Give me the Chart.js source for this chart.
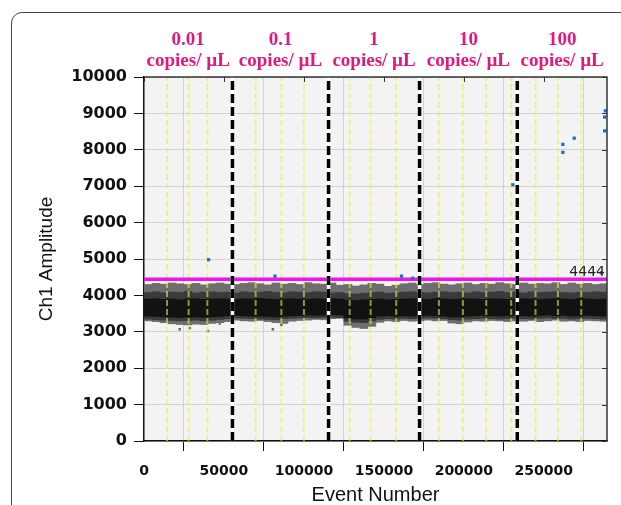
<!DOCTYPE html>
<html>
<head>
<meta charset="utf-8">
<script src="https://cdn.jsdelivr.net/npm/chart.js@4.4.1/dist/chart.umd.min.js"></script>
<style>
  body { margin: 0; background: #fff; }
  #wrap { position: relative; width: 621px; height: 505px; overflow: hidden; }
  #frame { position: absolute; left: 11px; top: 12px; width: 700px; height: 600px; border: 1.5px solid #444; border-radius: 11px; }
  canvas { position: absolute; left: 0; top: 0; }
</style>
</head>
<body>
<div id="wrap">
  <div id="frame"></div>
  <canvas id="dropletChart" width="621" height="505"></canvas>
</div>
<script>
// concentration of each block of wells
const concentrations = ['0.01', '0.1', '1', '10', '100'];
const unitLabel = 'copies/ \u00b5L';

// axis ticks
const eventTicks = [0, 50000, 100000, 150000, 200000, 250000];
const eventMax = 289500;
const ampMax = 10000;

// event number where each dilution block ends (black dashed) and well boundaries (yellow)
const sectionBounds = [55300, 115400, 172300, 233400];
const wellBounds = [14400, 27900, 39600, 69800, 85900, 100000, 128600, 141700, 157700,
  184400, 199400, 214000, 229600, 244800, 258800, 273400];

const threshold = 4444;

// droplet cloud, binned every 5000 events (bin centres)
const bandX = [2500, 7500, 12500, 17500, 22500, 27500, 32500, 37500, 42500, 47500,
  52500, 57500, 62500, 67500, 72500, 77500, 82500, 87500, 92500, 97500,
  102500, 107500, 112500, 117500, 122500, 127500, 132500, 137500, 142500, 147500,
  152500, 157500, 162500, 167500, 172500, 177500, 182500, 187500, 192500, 197500,
  202500, 207500, 212500, 217500, 222500, 227500, 232500, 237500, 242500, 247500,
  252500, 257500, 262500, 267500, 272500, 277500, 282500, 287500];
const outerHigh = [4300, 4330, 4310, 4340, 4320, 4300, 4330, 4290, 4320, 4340,
  4310, 4300, 4330, 4350, 4320, 4290, 4340, 4310, 4330, 4300,
  4350, 4320, 4310, 4340, 4280, 4300, 4260, 4290, 4330, 4310,
  4250, 4280, 4320, 4340, 4300, 4330, 4350, 4310, 4290, 4320,
  4340, 4300, 4330, 4310, 4350, 4320, 4300, 4340, 4310, 4330,
  4320, 4350, 4300, 4340, 4310, 4330, 4300, 4320];
const outerLow = [3300, 3280, 3250, 3220, 3200, 3190, 3210, 3200, 3230, 3250,
  3280, 3320, 3300, 3290, 3310, 3280, 3250, 3230, 3290, 3310,
  3320, 3340, 3330, 3360, 3370, 3180, 3120, 3090, 3150, 3260,
  3300, 3280, 3310, 3290, 3300, 3320, 3300, 3310, 3240, 3220,
  3270, 3300, 3290, 3310, 3300, 3280, 3300, 3290, 3310, 3280,
  3300, 3320, 3290, 3300, 3280, 3310, 3300, 3290];
const midHigh = [4080, 4100, 4070, 4090, 4080, 4110, 4070, 4090, 4100, 4080,
  4090, 4070, 4100, 4080, 4090, 4110, 4080, 4070, 4100, 4090,
  4080, 4100, 4090, 4070, 4080, 4050, 4040, 4060, 4080, 4090,
  4060, 4070, 4090, 4100, 4080, 4070, 4090, 4100, 4080, 4090,
  4070, 4100, 4080, 4090, 4110, 4080, 4090, 4070, 4100, 4080,
  4090, 4100, 4080, 4070, 4090, 4080, 4100, 4090];
const midLow = [3350, 3330, 3320, 3310, 3300, 3310, 3320, 3300, 3320, 3340,
  3360, 3380, 3370, 3360, 3350, 3340, 3330, 3360, 3370, 3380,
  3390, 3380, 3390, 3400, 3390, 3290, 3260, 3250, 3300, 3340,
  3360, 3350, 3370, 3360, 3370, 3380, 3370, 3360, 3330, 3320,
  3350, 3360, 3370, 3360, 3350, 3360, 3370, 3360, 3350, 3370,
  3380, 3360, 3370, 3350, 3360, 3370, 3360, 3350];
const coreHigh = [3900, 3910, 3890, 3900, 3880, 3900, 3910, 3890, 3900, 3910,
  3900, 3890, 3910, 3900, 3920, 3900, 3890, 3900, 3910, 3900,
  3890, 3910, 3900, 3910, 3900, 3870, 3860, 3880, 3890, 3900,
  3880, 3890, 3900, 3910, 3900, 3890, 3910, 3900, 3890, 3900,
  3910, 3900, 3890, 3910, 3900, 3890, 3900, 3910, 3900, 3890,
  3900, 3910, 3900, 3890, 3910, 3900, 3890, 3900];
const coreLow = [3430, 3420, 3410, 3400, 3390, 3400, 3410, 3400, 3410, 3420,
  3440, 3450, 3440, 3430, 3430, 3420, 3410, 3430, 3440, 3450,
  3460, 3450, 3460, 3470, 3460, 3380, 3350, 3350, 3390, 3430,
  3440, 3430, 3440, 3430, 3440, 3450, 3440, 3430, 3410, 3410,
  3430, 3440, 3450, 3440, 3430, 3440, 3450, 3440, 3430, 3450,
  3460, 3440, 3450, 3430, 3440, 3450, 3440, 3430];

// stray negative droplets under the cloud
const rainEvents = [22300, 28600, 40000, 47300, 80600, 85900];
const rainAmps = [3070, 3100, 3020, 3230, 3070, 3190];

// positive droplets (above threshold)
const posEvents = [40400, 81900, 161000, 168000, 230600, 261900, 261900, 269000, 288000, 288000, 288500, 286000];
const posAmps = [4980, 4530, 4530, 4470, 7040, 8150, 7930, 8320, 8900, 8520, 9070, 4620];

const band = (lo, hi) => bandX.map((x, i) => ({ x: x, y: [lo[i], hi[i]] }));
const points = (xs, ys) => xs.map((x, i) => ({ x: x, y: ys[i] }));
const verticals = (xs) => {
  const out = [];
  xs.forEach(x => out.push({ x: x, y: 0 }, { x: x, y: ampMax }, { x: x, y: null }));
  return out;
};

const plotDecor = {
  id: 'plotDecor',
  beforeDraw(chart) {
    const { ctx, chartArea: a } = chart;
    ctx.save();
    ctx.fillStyle = '#f3f3f3';
    ctx.fillRect(a.left, a.top, a.right - a.left, a.bottom - a.top);
    ctx.restore();
  },
  afterDraw(chart) {
    const { ctx, chartArea: a, scales } = chart;
    ctx.save();
    // top/right frame
    ctx.strokeStyle = '#333';
    ctx.lineWidth = 1.5;
    ctx.beginPath();
    ctx.moveTo(a.left, a.top);
    ctx.lineTo(a.right, a.top);
    ctx.lineTo(a.right, a.bottom);
    ctx.stroke();
    // inward ticks on top and right
    ctx.lineWidth = 1;
    ctx.beginPath();
    scales.y.ticks.forEach(t => {
      const y = Math.round(scales.y.getPixelForValue(t.value)) + 0.5;
      ctx.moveTo(a.right - 5, y);
      ctx.lineTo(a.right, y);
    });
    scales.x.ticks.forEach(t => {
      const x = Math.round(scales.x.getPixelForValue(t.value)) + 0.5;
      ctx.moveTo(x, a.top);
      ctx.lineTo(x, a.top + 5);
    });
    ctx.stroke();

    // threshold value
    ctx.fillStyle = '#222';
    ctx.font = '14px "DejaVu Sans"';
    ctx.textAlign = 'right';
    ctx.textBaseline = 'alphabetic';
    ctx.fillText(String(threshold), a.right - 2, scales.y.getPixelForValue(threshold) - 3);

    // concentration labels over each block
    const starts = [0].concat(sectionBounds);
    const ends = sectionBounds.concat([eventMax]);
    ctx.fillStyle = '#e3177e';
    ctx.font = 'bold 19px "Liberation Serif"';
    ctx.textAlign = 'center';
    concentrations.forEach((c, i) => {
      const x = scales.x.getPixelForValue((starts[i] + ends[i]) / 2);
      ctx.fillText(c, x, 45);
      ctx.fillText(unitLabel, x, 66);
    });
    ctx.restore();
  }
};

const ctx = document.getElementById('dropletChart').getContext('2d');
const dropletChart = new Chart(ctx, {
  type: 'scatter',
  data: {
    datasets: [
      {
        label: 'Positive',
        data: points(posEvents, posAmps),
        backgroundColor: '#1f6bd1',
        borderWidth: 0,
        pointStyle: 'rect',
        pointRadius: 2.3,
        order: 0
      },
      {
        label: 'Dilution',
        type: 'line',
        data: verticals(sectionBounds),
        borderColor: '#000',
        borderWidth: 3.5,
        borderDash: [9, 4],
        pointRadius: 0,
        order: 1
      },
      {
        label: 'Dilution base',
        type: 'line',
        data: verticals(sectionBounds),
        borderColor: '#fff',
        borderWidth: 3.5,
        pointRadius: 0,
        order: 2
      },
      {
        label: 'Threshold',
        type: 'line',
        data: [{ x: 0, y: threshold }, { x: eventMax, y: threshold }],
        borderColor: '#f010f0',
        borderWidth: 3.5,
        pointRadius: 0,
        order: 3
      },
      {
        label: 'Wells',
        type: 'line',
        data: verticals(wellBounds),
        borderColor: 'rgba(242, 236, 70, 0.6)',
        borderWidth: 2,
        borderDash: [6, 3],
        pointRadius: 0,
        order: 4
      },
      {
        label: 'Core',
        type: 'bar',
        data: band(coreLow, coreHigh),
        backgroundColor: '#121212',
        grouped: false,
        barPercentage: 1,
        categoryPercentage: 1,
        order: 5
      },
      {
        label: 'Mid',
        type: 'bar',
        data: band(midLow, midHigh),
        backgroundColor: '#3a3a3a',
        grouped: false,
        barPercentage: 1,
        categoryPercentage: 1,
        order: 6
      },
      {
        label: 'Negative',
        type: 'bar',
        data: band(outerLow, outerHigh),
        backgroundColor: '#6e6e6e',
        grouped: false,
        barPercentage: 1,
        categoryPercentage: 1,
        order: 7
      },
      {
        label: 'Rain',
        data: points(rainEvents, rainAmps),
        backgroundColor: '#6a6a6a',
        borderWidth: 0,
        pointStyle: 'rect',
        pointRadius: 1.8,
        order: 8
      }
    ]
  },
  options: {
    responsive: false,
    animation: false,
    layout: { padding: { top: 77, right: 14, bottom: 0, left: 0 } },
    plugins: {
      legend: { display: false },
      tooltip: { enabled: false }
    },
    scales: {
      x: {
        type: 'linear',
        min: 0,
        max: eventMax,
        offset: false,
        afterBuildTicks: s => { s.ticks = eventTicks.map(v => ({ value: v })); },
        ticks: {
          autoSkip: false,
          maxRotation: 0,
          padding: 12,
          color: '#111',
          font: { family: 'DejaVu Sans', size: 14, weight: 'bold' },
          callback: v => String(v)
        },
        grid: { color: '#d2d2d2', tickColor: '#111', tickLength: 10 },
        border: { color: '#111', width: 1.5 },
        title: {
          display: true,
          text: 'Event Number',
          color: '#111',
          font: { family: 'Liberation Sans', size: 20, lineHeight: 1 },
          padding: { top: 0, bottom: 0 }
        },
        afterFit: s => { s.height = 64; }
      },
      y: {
        min: 0,
        max: ampMax,
        ticks: {
          stepSize: 1000,
          padding: 7,
          color: '#111',
          font: { family: 'DejaVu Sans', size: 16, weight: 'bold' },
          callback: v => String(v)
        },
        grid: { color: '#d2d2d2', tickColor: '#111', tickLength: 10 },
        border: { color: '#111', width: 1.5 },
        title: {
          display: true,
          text: 'Ch1 Amplitude',
          color: '#111',
          font: { family: 'Liberation Sans', size: 19, lineHeight: 1 },
          padding: { top: 37, bottom: 0 }
        },
        afterFit: s => { s.width = 144; }
      }
    }
  },
  plugins: [plotDecor]
});
</script>
</body>
</html>
